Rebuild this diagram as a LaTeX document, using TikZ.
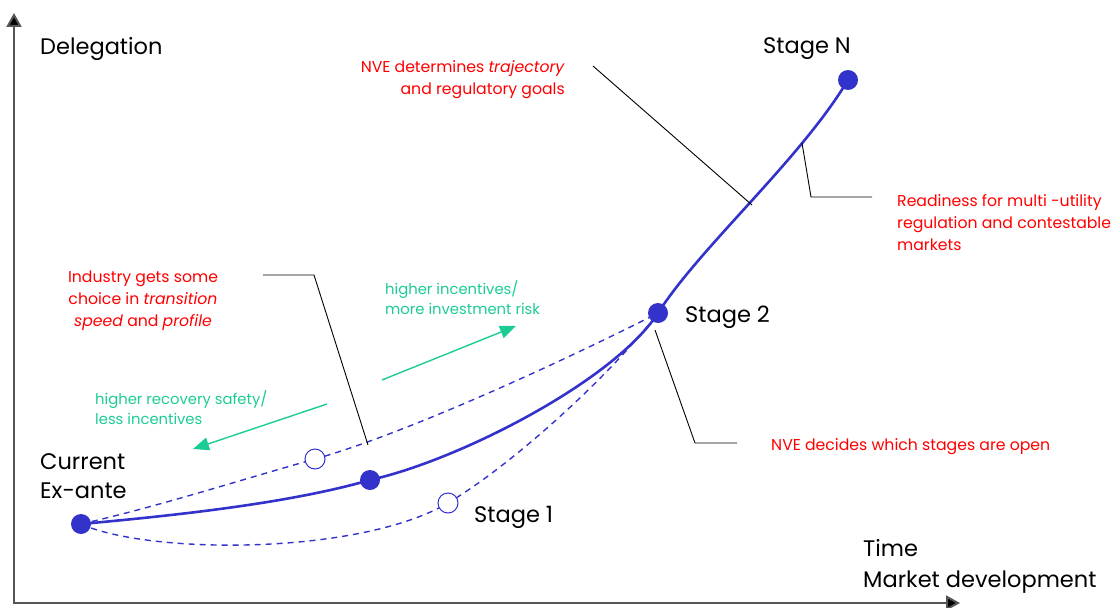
\documentclass[tikz,border=0pt]{standalone}
\usepackage{fontspec}
\setmainfont{Poppins}
\usetikzlibrary{arrows.meta}
\definecolor{cblue}{HTML}{3333CC}
\definecolor{cgreen}{HTML}{1CCC96}
\definecolor{cred}{HTML}{FF0000}
\definecolor{caxis}{HTML}{555555}
\tikzset{
  axisline/.style={draw=caxis,line width=2pt,-{Triangle[length=14pt,width=15pt,fill=black]}},
  stagedot/.style={circle,fill=cblue,minimum size=20pt,inner sep=0pt},
  opendot/.style={circle,draw=cblue,fill=white,line width=1pt,minimum size=20pt,inner sep=0pt},
  bigtxt/.style={inner sep=0pt,font=\fontsize{22.5}{29}\selectfont,text=black},
  redtxt/.style={inner sep=0pt,font=\fontsize{15.7}{22}\selectfont,text=cred},
  greentxt/.style={inner sep=0pt,font=\fontsize{14.8}{20}\selectfont,text=cgreen},
  curve/.style={draw=cblue,line width=2.6pt},
  dcurve/.style={draw=cblue,line width=1.4pt,dash pattern=on 6pt off 5pt},
  leader/.style={draw=black,line width=0.9pt},
  garrow/.style={draw=cgreen,line width=1.4pt,-{Triangle[length=16pt,width=13pt]}}
}
\begin{document}
\begin{tikzpicture}[x=1pt,y=-1pt]
\useasboundingbox (0,0) rectangle (1115,607);
% axes
\coordinate (origin) at (14,604);
\coordinate (ytop) at (14,13);
\coordinate (xend) at (960,603);
\draw[axisline] (origin) -- (ytop);
\draw[axisline] (13,603) -- (xend);
% points
\coordinate (C) at (81,524);
\coordinate (S1) at (370,480);
\coordinate (S2) at (658,313);
\coordinate (SN) at (848,80);
\coordinate (O1) at (315,459);
\coordinate (O2) at (448,503);
% curves
\draw[dcurve] (C) .. controls (160,506) and (240,480) .. (O1)
  .. controls (415,431) and (590,348) .. (S2);
\draw[dcurve] (C) .. controls (150,555) and (360,555) .. (O2)
  .. controls (518,461) and (615,370) .. (S2);
\draw[curve] (C) .. controls (180,515) and (290,503) .. (S1)
  .. controls (460,460) and (615,380) .. (S2)
  .. controls (701,246) and (800,160) .. (SN);
% dots
\node[stagedot] (nC) at (C) {};
\node[stagedot] (nS1) at (S1) {};
\node[stagedot] (nS2) at (S2) {};
\node[stagedot] (nSN) at (SN) {};
\node[opendot] (nO1) at (O1) {};
\node[opendot] (nO2) at (O2) {};
% black labels
\node[bigtxt,anchor=west] (ydel) at (40,49) {Delegation};
\node[bigtxt,anchor=west,align=left] (lcur) at (40,476) {Current\\Ex-ante};
\node[bigtxt,anchor=west] (ls1) at (474,517) {Stage 1};
\node[bigtxt,anchor=west] (ls2) at (685,317) {Stage 2};
\node[bigtxt,anchor=west] (lsn) at (763,49) {Stage N};
\node[bigtxt,anchor=west,align=left,font=\fontsize{22.5}{31}\selectfont] (ltime) at (863,566) {Time\\Market development};
% red labels
\node[redtxt,anchor=east,align=right] (rnve) at (565,80) {NVE determines \textit{trajectory}\\and regulatory goals};
\node[redtxt,anchor=west,align=left] (rread) at (897,223) {Readiness for multi -utility\\regulation and contestable\\markets};
\node[redtxt,align=center] (rind) at (143,301) {Industry gets some\\choice in \textit{transition}\\\textit{speed} and \textit{profile}};
\node[redtxt,anchor=west] (rdec) at (771,447) {NVE decides which stages are open};
% green labels
\node[greentxt,anchor=west,align=left] (ginc) at (385,298) {higher incentives/\\more investment risk};
\node[greentxt,anchor=west,align=left] (grec) at (95,408) {higher recovery safety/\\less incentives};
% leaders
\coordinate (a1) at (593,66); \coordinate (a2) at (752,205);
\draw[leader] (a1) -- (a2);
\coordinate (b1) at (872,197); \coordinate (b2) at (811,197); \coordinate (b3) at (802,143);
\draw[leader] (b1) -- (b2) -- (b3);
\coordinate (c1) at (263,275); \coordinate (c2) at (314,275); \coordinate (c3) at (368,445);
\draw[leader] (c1) -- (c2) -- (c3);
\coordinate (d1) at (655,330); \coordinate (d2) at (695,443); \coordinate (d3) at (737,443);
\draw[leader] (d1) -- (d2) -- (d3);
% green arrows
\coordinate (g1) at (382,380); \coordinate (g2) at (516,326);
\draw[garrow] (g1) -- (g2);
\coordinate (h1) at (327,404); \coordinate (h2) at (193,449);
\draw[garrow] (h1) -- (h2);
\end{tikzpicture}
\end{document}
